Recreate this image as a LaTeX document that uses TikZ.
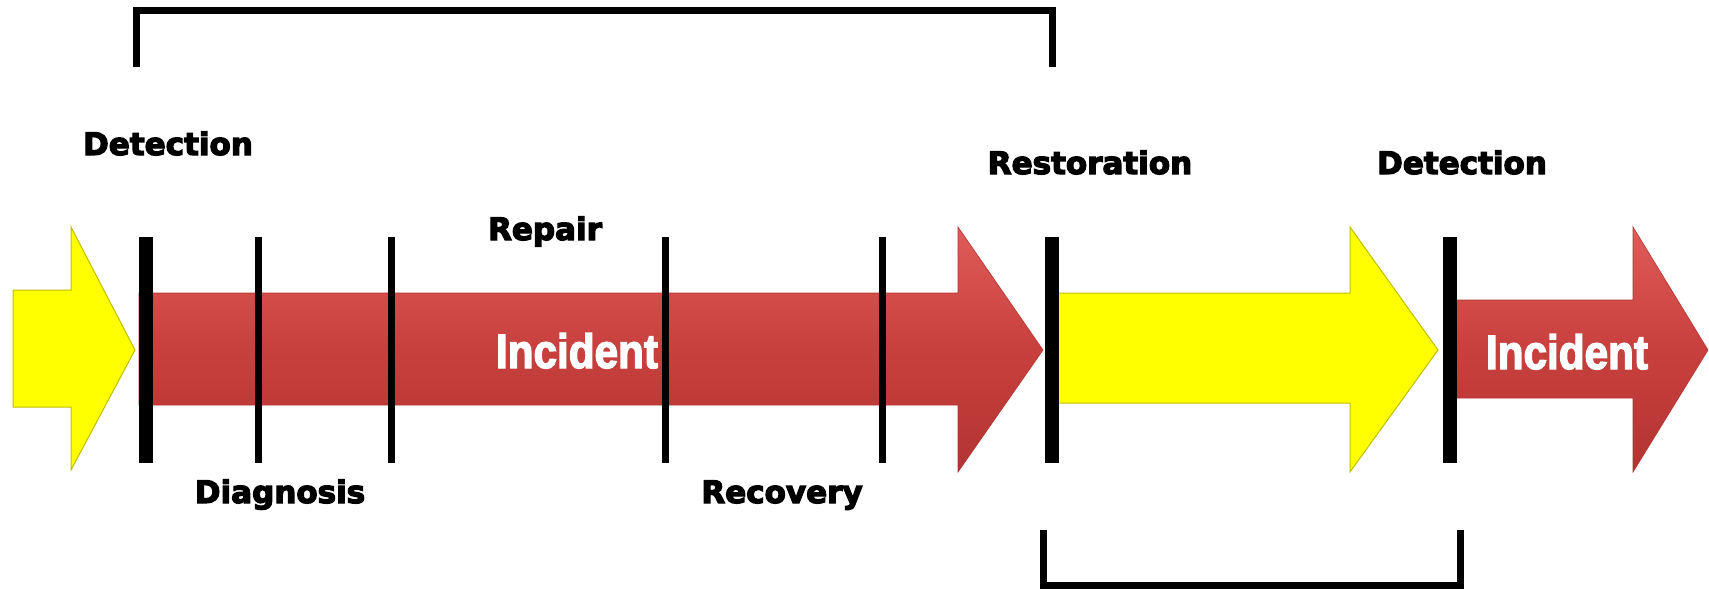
\documentclass[tikz,border=0pt]{standalone}
\usepackage{fontspec}
\usepackage{graphicx}
\newfontfamily\lblfont{DejaVu Sans}[BoldFeatures={FakeBold=4}]
\newfontfamily\incfont{Liberation Sans}[BoldFeatures={FakeBold=3}]
\definecolor{redmain}{RGB}{200,64,61}
\definecolor{redlight}{RGB}{222,92,88}
\definecolor{reddark}{RGB}{178,52,50}
\definecolor{yellowmain}{RGB}{255,255,0}
\definecolor{yellowdark}{RGB}{190,190,0}
\begin{document}
\begin{tikzpicture}[x=1pt,y=-1pt,
  lbl/.style={font=\lblfont\bfseries\fontsize{31}{31}\selectfont, anchor=base, inner sep=0pt},
  inc/.style={font=\incfont\bfseries\fontsize{48}{48}\selectfont, text=white, anchor=base, inner sep=0pt},
  redarrow/.style={top color=redlight, bottom color=reddark, middle color=redmain, draw=reddark, line width=0.6pt},
  yelarrow/.style={fill=yellowmain, draw=yellowdark, line width=1pt},
  bar/.style={fill=black},
  bracket/.style={line width=7pt, line join=miter, draw=black}]
\useasboundingbox (0,0) rectangle (1709,589);
% arrows
\path[yelarrow] (13,290) -- (71,290) -- (71,227) -- (135,350) -- (71,470) -- (71,407) -- (13,407) -- cycle;
\path[redarrow] (139,293) -- (958,293) -- (958,227) -- (1043,350) -- (958,472) -- (958,405) -- (139,405) -- cycle;
\path[yelarrow] (1052,293) -- (1350,293) -- (1350,227) -- (1438,350) -- (1350,472) -- (1350,403) -- (1052,403) -- cycle;
\path[redarrow] (1450,300) -- (1633,300) -- (1633,227) -- (1708,350) -- (1633,472) -- (1633,398) -- (1450,398) -- cycle;
% bars
\fill[bar] (139,237) rectangle (153,463);
\fill[bar] (1045,237) rectangle (1059,463);
\fill[bar] (1443,237) rectangle (1457,463);
\fill[bar] (255,237) rectangle (262,463);
\fill[bar] (388,237) rectangle (395,463);
\fill[bar] (662,237) rectangle (669,463);
\fill[bar] (879,237) rectangle (886,463);
% brackets
\draw[bracket] (136,67) -- (136,10) -- (1052,10) -- (1052,67);
\draw[bracket] (1043,530) -- (1043,585) -- (1460,585) -- (1460,530);
% labels
\node[lbl] (det1) at (168,155) {Detection};
\node[lbl] (rest) at (1090,174) {Restoration};
\node[lbl] (det2) at (1462,174) {Detection};
\node[lbl] (rep) at (545,240) {Repair};
\node[lbl] (diag) at (280,503) {Diagnosis};
\node[lbl] (rec) at (782,503) {Recovery};
\node[inc] (inc1) at (577,368) {\scalebox{0.88}[1]{Incident}};
\node[inc] (inc2) at (1567,369) {\scalebox{0.88}[1]{Incident}};
\end{tikzpicture}
\end{document}
